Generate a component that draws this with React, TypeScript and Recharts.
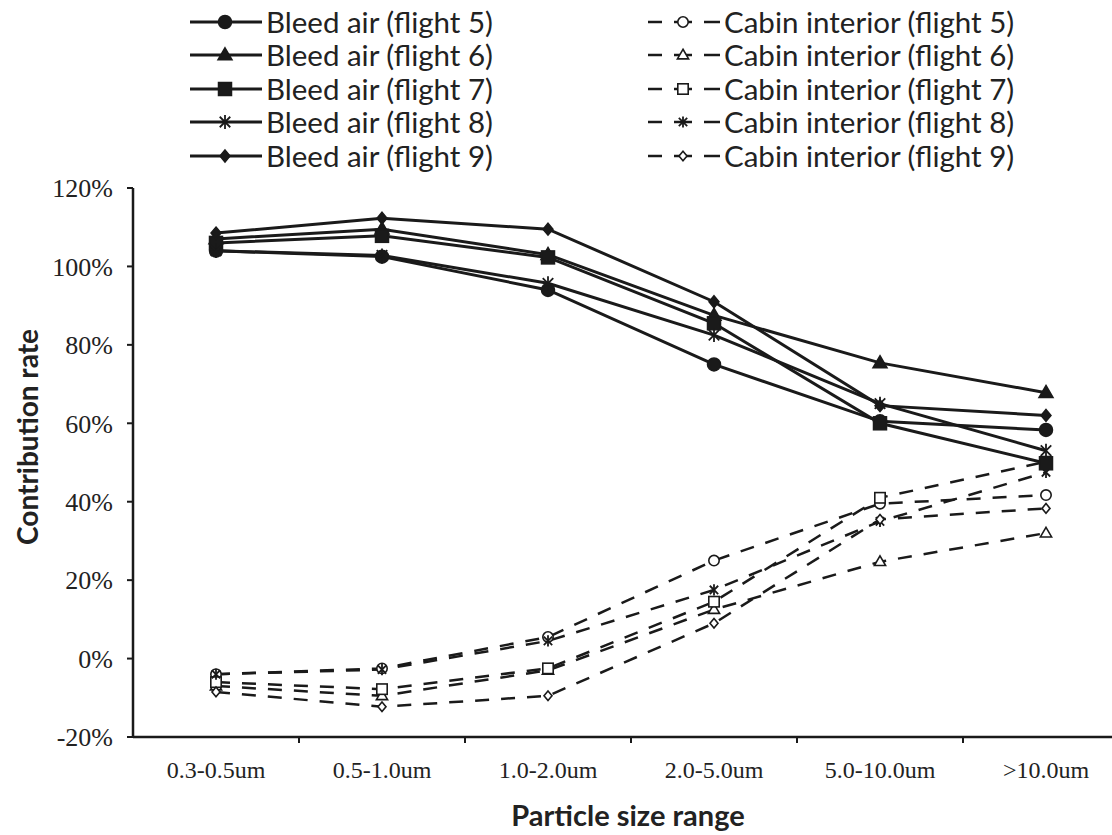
import React from 'react';
import { LineChart, Line, XAxis, YAxis } from 'recharts';

const categories = ['0.3-0.5um', '0.5-1.0um', '1.0-2.0um', '2.0-5.0um', '5.0-10.0um', '>10.0um'];
const yTicks = [-20, 0, 20, 40, 60, 80, 100, 120];

const bleed5 = [104, 102.5, 94, 75, 60.5, 58.3];
const bleed6 = [107, 109.5, 103, 87.5, 75.4, 67.8];
const bleed7 = [106, 107.8, 102.3, 85.5, 60, 49.8];
const bleed8 = [104, 102.8, 95.7, 82.5, 65, 53];
const bleed9 = [108.5, 112.3, 109.5, 91, 64.5, 62];

const cabin5 = [-4, -2.5, 5.5, 25, 39.5, 41.7];
const cabin6 = [-7, -9.5, -3, 12.5, 24.7, 32];
const cabin7 = [-6, -7.8, -2.5, 14.5, 41, 50.2];
const cabin8 = [-4, -2.8, 4.5, 17.5, 35, 47.5];
const cabin9 = [-8.5, -12.3, -9.5, 9, 35.5, 38.3];

const bleedNames = ['Bleed air (flight 5)', 'Bleed air (flight 6)', 'Bleed air (flight 7)', 'Bleed air (flight 8)', 'Bleed air (flight 9)'];
const cabinNames = ['Cabin interior (flight 5)', 'Cabin interior (flight 6)', 'Cabin interior (flight 7)', 'Cabin interior (flight 8)', 'Cabin interior (flight 9)'];
const shapes = ['circle', 'triangle', 'square', 'star', 'diamond'];

const INK = '#1a1a1a';

type Series = { key: string; name: string; values: number[]; shape: string; dashed: boolean };

const series: Series[] = [
  ...[cabin5, cabin6, cabin7, cabin8, cabin9].map((v, i) => ({ key: 'c' + (i + 5), name: cabinNames[i], values: v, shape: shapes[i], dashed: true })),
  ...[bleed5, bleed6, bleed7, bleed8, bleed9].map((v, i) => ({ key: 'b' + (i + 5), name: bleedNames[i], values: v, shape: shapes[i], dashed: false })),
];

const data = categories.map((c, i) => {
  const row: any = { cat: c };
  series.forEach((s) => { row[s.key] = s.values[i]; });
  return row;
});

function Marker({ cx, cy, shape, filled }: { cx: number; cy: number; shape: string; filled: boolean }) {
  const fill = filled ? INK : '#fff';
  const sw = filled ? 1.5 : 1.6;
  const s = filled ? 1 : 0.8;
  switch (shape) {
    case 'circle':
      return <circle cx={cx} cy={cy} r={6.5 * s} fill={fill} stroke={INK} strokeWidth={sw} />;
    case 'triangle': {
      const h = 12 * s, w = 14 * s;
      return <polygon points={`${cx},${cy - h * 0.6} ${cx + w / 2},${cy + h * 0.4} ${cx - w / 2},${cy + h * 0.4}`} fill={fill} stroke={INK} strokeWidth={sw} />;
    }
    case 'square': {
      const a = 13 * s;
      return <rect x={cx - a / 2} y={cy - a / 2} width={a} height={a} fill={fill} stroke={INK} strokeWidth={sw} />;
    }
    case 'star': {
      const r = 7 * s;
      const d = r * 0.75;
      return (
        <g stroke={INK} strokeWidth={1.8}>
          <line x1={cx} y1={cy - r} x2={cx} y2={cy + r} />
          <line x1={cx - d} y1={cy - d} x2={cx + d} y2={cy + d} />
          <line x1={cx - d} y1={cy + d} x2={cx + d} y2={cy - d} />
        </g>
      );
    }
    case 'diamond': {
      const w = 10 * s, h = 12 * s;
      return <polygon points={`${cx},${cy - h / 2} ${cx + w / 2},${cy} ${cx},${cy + h / 2} ${cx - w / 2},${cy}`} fill={fill} stroke={INK} strokeWidth={sw} />;
    }
  }
  return null;
}

const makeDot = (shape: string, filled: boolean) => (props: any) => {
  const { cx, cy, index, dataKey } = props;
  if (cx == null || cy == null) return <g key={`${dataKey}-${index}`} />;
  return (
    <g key={`${dataKey}-${index}`}>
      <Marker cx={cx} cy={cy} shape={shape} filled={filled} />
    </g>
  );
};

const XTick = (props: any) => {
  const { x, y, payload, index, width } = props;
  const half = width ? width / categories.length / 2 : 83;
  return (
    <g>
      {index < categories.length - 1 && (
        <line x1={x + half} y1={y - 6} x2={x + half} y2={y} stroke={INK} strokeWidth={2} />
      )}
      <text x={x} y={y + 35} textAnchor="middle" fontFamily="'Liberation Serif', serif" fontSize={24} fill="#222">
        {payload.value}
      </text>
    </g>
  );
};

const legendFont: React.CSSProperties = { fontFamily: 'Lato, sans-serif', fontSize: 29.5, color: '#222', whiteSpace: 'nowrap' };

function LegendRow({ name, shape, dashed, top, left }: { name: string; shape: string; dashed: boolean; top: number; left: number }) {
  return (
    <div style={{ position: 'absolute', top: top - 16, left, height: 32, display: 'flex', alignItems: 'center' }}>
      <svg width={76} height={32} style={{ display: 'block' }}>
        {dashed ? (
          <g stroke={INK} strokeWidth={2.5}>
            <line x1={2} y1={16} x2={16} y2={16} />
            <line x1={58} y1={16} x2={74} y2={16} />
            <line x1={28} y1={16} x2={46} y2={16} />
          </g>
        ) : (
          <line x1={2} y1={16} x2={74} y2={16} stroke={INK} strokeWidth={3} />
        )}
        <Marker cx={37} cy={16} shape={shape} filled={!dashed} />
      </svg>
      <span style={{ ...legendFont, marginLeft: 2, lineHeight: '32px' }}>{name}</span>
    </div>
  );
}

export default function App() {
  const rows = [22, 55, 89, 122, 156];
  return (
    <div style={{ position: 'absolute', left: 0, top: 0, width: 1112, height: 835, overflow: 'hidden', background: '#fff' }}>
      <LineChart width={1140} height={835} data={data} margin={{ top: 188, right: 11, left: 0, bottom: 0 }}>
        <XAxis
          dataKey="cat"
          scale="band"
          height={98}
          axisLine={{ stroke: INK, strokeWidth: 2.5 }}
          tickLine={false}
          tickSize={6}
          tickMargin={0}
          tick={<XTick />}
          interval={0}
        />
        <YAxis
          width={133}
          domain={[-20, 120]}
          ticks={yTicks}
          type="number"
          allowDataOverflow
          axisLine={{ stroke: INK, strokeWidth: 2.5 }}
          tickLine={{ stroke: INK, strokeWidth: 2 }}
          tickSize={6}
          tickMargin={14}
          tickFormatter={(v: number) => `${v}%`}
          tick={{ fontFamily: "'Liberation Serif', serif", fontSize: 26, fill: '#222' }}
        />
        {series.map((s) => (
          <Line
            key={s.key}
            dataKey={s.key}
            name={s.name}
            type="linear"
            stroke={INK}
            strokeWidth={s.dashed ? 2.5 : 3}
            strokeDasharray={s.dashed ? '14 12' : undefined}
            dot={makeDot(s.shape, !s.dashed)}
            activeDot={false}
            isAnimationActive={false}
          />
        ))}
      </LineChart>
      {bleedNames.map((n, i) => (
        <LegendRow key={n} name={n} shape={shapes[i]} dashed={false} top={rows[i]} left={188} />
      ))}
      {cabinNames.map((n, i) => (
        <LegendRow key={n} name={n} shape={shapes[i]} dashed={true} top={rows[i]} left={646} />
      ))}
      <div
        style={{
          position: 'absolute', left: 27, top: 437, transform: 'translate(-50%, -50%) rotate(-90deg)',
          fontFamily: 'Lato, sans-serif', fontWeight: 700, fontSize: 28, color: '#222', whiteSpace: 'nowrap',
        }}
      >
        Contribution rate
      </div>
      <div
        style={{
          position: 'absolute', left: 628, top: 815, transform: 'translate(-50%, -50%)',
          fontFamily: 'Lato, sans-serif', fontWeight: 700, fontSize: 29, lineHeight: '32px', color: '#222', whiteSpace: 'nowrap',
        }}
      >
        Particle size range
      </div>
    </div>
  );
}
